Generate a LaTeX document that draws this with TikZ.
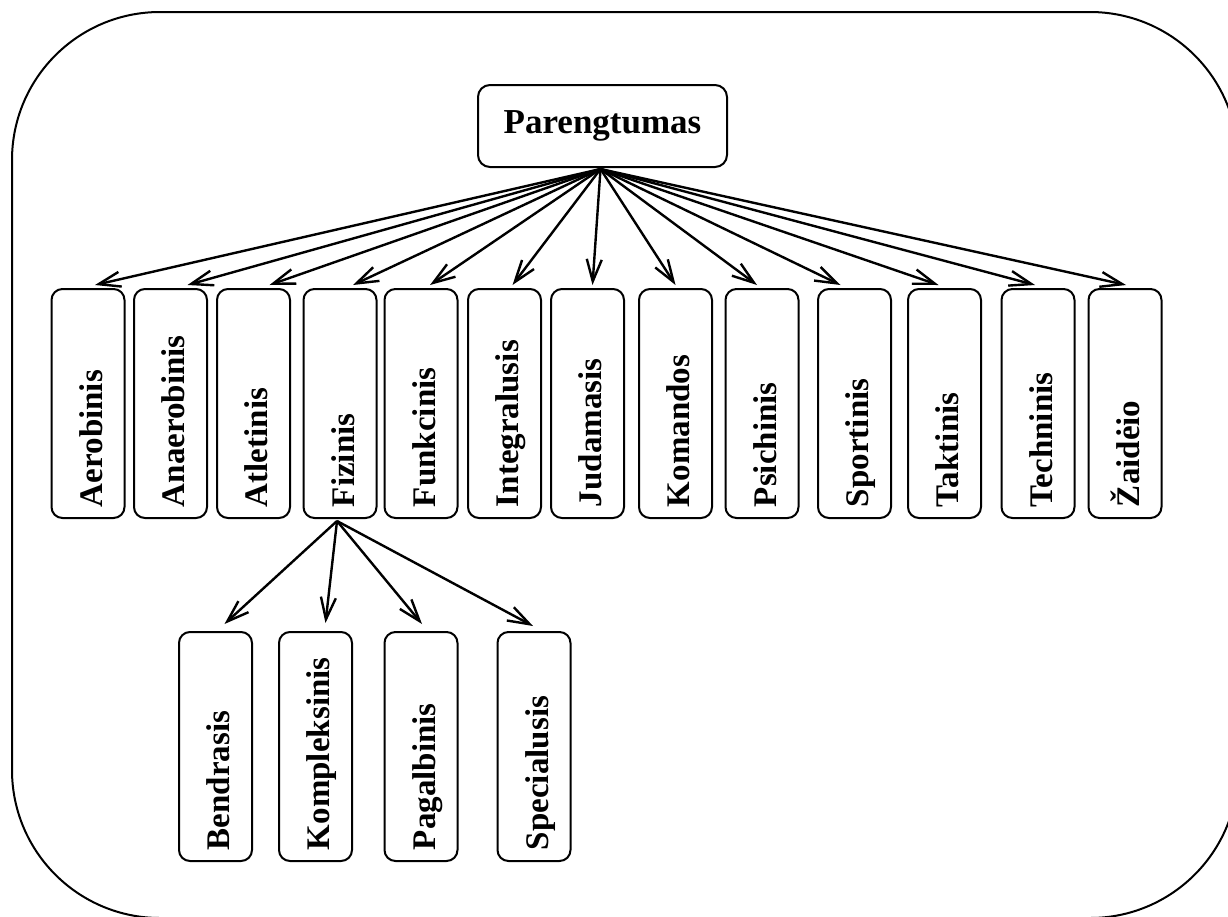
\documentclass[tikz,border=0pt]{standalone}
\usepackage{fontspec}
\setmainfont{Liberation Serif}
\usetikzlibrary{arrows.meta,calc}
\begin{document}
\begin{tikzpicture}[x=1pt,y=-1pt,
  lbl/.style={draw, line width=2pt, rounded corners=11pt, rotate=90,
    minimum height=73pt, text width=207pt, inner xsep=11pt, inner ysep=0pt,
    align=left, text height=28pt, text depth=0pt,
    font=\fontsize{33}{39}\selectfont\bfseries},
  topbox/.style={draw, line width=2pt, rounded corners=12pt,
    minimum width=249pt, minimum height=82pt, inner sep=0pt,
    font=\fontsize{35}{41}\selectfont\bfseries},
  arr/.style={line width=2.4pt, -{Straight Barb[length=22pt,width=15pt]}}]
\useasboundingbox (0,0) rectangle (1228,916);
\clip (0,0) rectangle (1228,916);
\draw[line width=2pt, rounded corners=148pt] (12,12) rectangle (1238,918);

\node[topbox] (P) at (602.5,126) {Parengtumas};

\node[lbl] (aer) at (88,403.5) {Aerobinis};
\node[lbl] (ana) at (170.5,403.5) {Anaerobinis};
\node[lbl] (atl) at (253.5,403.5) {Atletinis};
\node[lbl] (fiz) at (340,403.5) {Fizinis};
\node[lbl] (fun) at (421,403.5) {Funkcinis};
\node[lbl] (int) at (504.5,403.5) {Integralusis};
\node[lbl] (jud) at (587.5,403.5) {Judamasis};
\node[lbl] (kom) at (675.5,403.5) {Komandos};
\node[lbl] (psi) at (762,403.5) {Psichinis};
\node[lbl] (spo) at (854.5,403.5) {Sportinis};
\node[lbl] (tak) at (944.5,403.5) {Taktinis};
\node[lbl] (tec) at (1038,403.5) {Techninis};
\node[lbl] (zai) at (1125,403.5) {Žaidėio};

\node[lbl] (ben) at (215.5,746.5) {Bendrasis};
\node[lbl] (kmp) at (315.5,746.5) {Kompleksinis};
\node[lbl] (pag) at (421,746.5) {Pagalbinis};
\node[lbl] (spe) at (534,746.5) {Specialusis};

\coordinate (ps) at ($(P.south)+(-2,1)$);
\draw[arr] (ps) -- ($(aer.east)+(7,-3)$);
\draw[arr] (ps) -- ($(ana.east)+(17,-3)$);
\draw[arr] (ps) -- ($(atl.east)+(16,-3)$);
\draw[arr] (ps) -- ($(fiz.east)+(13,-3)$);
\draw[arr] (ps) -- ($(fun.east)+(9,-3)$);
\draw[arr] (ps) -- ($(int.east)+(8,-3)$);
\draw[arr] (ps) -- ($(jud.east)+(5,-3)$);
\draw[arr] (ps) -- ($(kom.east)+(0,-3)$);
\draw[arr] (ps) -- ($(psi.east)+(-5,-3)$);
\draw[arr] (ps) -- ($(spo.east)+(-14,-3)$);
\draw[arr] (ps) -- ($(tak.east)+(-6,-3)$);
\draw[arr] (ps) -- ($(tec.east)+(-3,-3)$);
\draw[arr] (ps) -- ($(zai.east)+(1,-3)$);

\coordinate (fs) at ($(fiz.west)+(-3,2)$);
\draw[arr] (fs) -- ($(ben.east)+(9,-7)$);
\draw[arr] (fs) -- ($(kmp.east)+(10,-8)$);
\draw[arr] (fs) -- ($(pag.east)+(1,-7)$);
\draw[arr] (fs) -- ($(spe.east)+(-1,-5)$);
\end{tikzpicture}
\end{document}
